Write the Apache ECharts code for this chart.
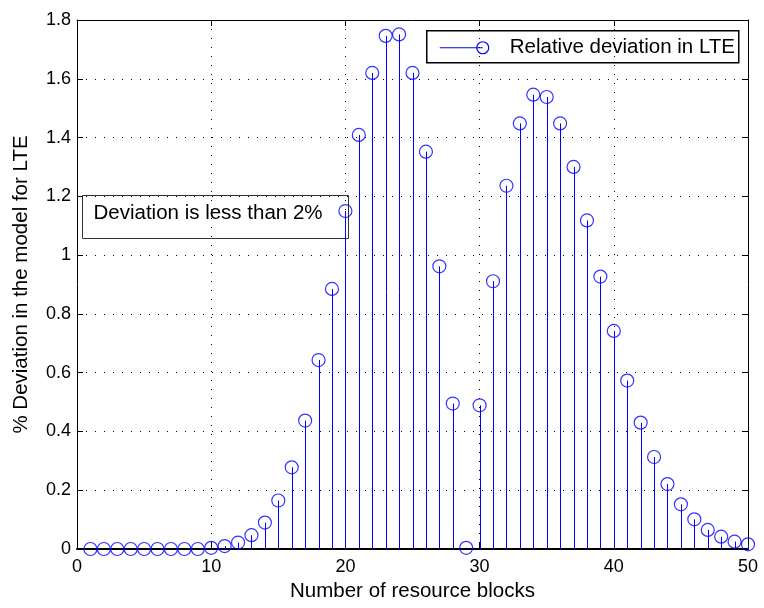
<!DOCTYPE html>
<html>
<head>
<meta charset="utf-8">
<script src="https://cdn.jsdelivr.net/npm/echarts@6/dist/echarts.min.js"></script>
<style>
  html, body { margin: 0; padding: 0; background: #fff; }
  #chart { width: 764px; height: 608px; }
</style>
</head>
<body>
<div id="chart"></div>
<script>
// Number of resource blocks (x) and relative deviation in % (y)
const resourceBlocks = [
  1, 2, 3, 4, 5, 6, 7, 8, 9, 10,
  11, 12, 13, 14, 15, 16, 17, 18, 19, 20,
  21, 22, 23, 24, 25, 26, 27, 28, 29, 30,
  31, 32, 33, 34, 35, 36, 37, 38, 39, 40,
  41, 42, 43, 44, 45, 46, 47, 48, 49, 50
];
const deviation = [
  0.000, 0.000, 0.000, 0.000, 0.000, 0.000, 0.000, 0.000, 0.000, 0.004,
  0.010, 0.022, 0.047, 0.090, 0.165, 0.278, 0.437, 0.643, 0.885, 1.150,
  1.409, 1.620, 1.746, 1.751, 1.620, 1.352, 0.962, 0.495, 0.004, 0.489,
  0.911, 1.236, 1.448, 1.546, 1.538, 1.448, 1.300, 1.118, 0.927, 0.742,
  0.573, 0.430, 0.313, 0.221, 0.152, 0.101, 0.065, 0.042, 0.025, 0.016
];
const seriesName = 'Relative deviation in LTE';
const noteText = 'Deviation is less than 2%';
const xAxisTitle = 'Number of resource blocks';
const yAxisTitle = '% Deviation in the model for LTE';

const points = resourceBlocks.map((x, i) => [x, deviation[i]]);

const FONT = '"Liberation Sans", Arial, Helvetica, sans-serif';
const BLUE = '#0000ff';

// top and right axes only close the frame and carry inward ticks
const frameAxis = {
  axisLine: { show: true, onZero: false, lineStyle: { color: '#000', width: 1 } },
  axisTick: { show: true, inside: true, length: 6, lineStyle: { color: '#000' } },
  axisLabel: { show: false },
  splitLine: { show: false }
};

const chart = echarts.init(document.getElementById('chart'), null, { renderer: 'canvas' });

chart.setOption({
  animation: false,
  backgroundColor: '#fff',
  grid: { left: 77, right: 16, top: 20, bottom: 59, containLabel: false },
  xAxis: [
    {
      type: 'value', min: 0, max: 50, interval: 10,
      name: xAxisTitle, nameLocation: 'middle', nameGap: 30,
      nameTextStyle: { fontFamily: FONT, fontSize: 20.5, color: '#000' },
      axisLine: { show: true, onZero: false, lineStyle: { color: '#000', width: 2 } },
      axisTick: { show: true, inside: true, length: 6, lineStyle: { color: '#000' } },
      axisLabel: { fontFamily: FONT, fontSize: 18, color: '#000', margin: 9 },
      splitLine: { show: true, lineStyle: { color: '#000', width: 1, type: [1, 8] } }
    },
    Object.assign({ type: 'value', min: 0, max: 50, interval: 10, position: 'top' }, frameAxis)
  ],
  yAxis: [
    {
      type: 'value', min: 0, max: 1.8, interval: 0.2,
      name: yAxisTitle, nameLocation: 'middle', nameGap: 45, nameRotate: 90,
      nameTextStyle: { fontFamily: FONT, fontSize: 20.5, color: '#000' },
      axisLine: { show: true, lineStyle: { color: '#000', width: 1 } },
      axisTick: { show: true, inside: true, length: 6, lineStyle: { color: '#000' } },
      axisLabel: {
        fontFamily: FONT, fontSize: 18, color: '#000', margin: 6,
        formatter: v => String(Math.round(v * 10) / 10)
      },
      splitLine: { show: true, lineStyle: { color: '#000', width: 1, type: [1, 8] } }
    },
    Object.assign({ type: 'value', min: 0, max: 1.8, interval: 0.2, position: 'right' }, frameAxis)
  ],
  series: [
    {
      // stems from the baseline up to each value
      type: 'custom',
      name: seriesName,
      data: points,
      clip: false,
      z: 3,
      renderItem: function (params, api) {
        const x = api.value(0);
        const base = api.coord([x, 0]);
        const top = api.coord([x, api.value(1)]);
        const px = Math.round(base[0]) + 0.5;
        return {
          type: 'line',
          shape: { x1: px, y1: base[1], x2: px, y2: top[1] },
          style: { stroke: BLUE, lineWidth: 1 }
        };
      }
    },
    {
      // open circle markers on top of each stem
      type: 'scatter',
      name: seriesName,
      data: points,
      symbol: 'circle',
      symbolSize: 13,
      clip: false,
      z: 4,
      itemStyle: { color: 'rgba(0,0,0,0)', borderColor: BLUE, borderWidth: 1.2 },
      emphasis: { disabled: true }
    }
  ],
  graphic: [
    {
      // legend box
      type: 'group',
      left: 426, top: 30,
      children: [
        { type: 'rect', shape: { x: 0, y: 0, width: 312, height: 32 },
          style: { fill: '#fff', stroke: '#000', lineWidth: 1.5 } },
        { type: 'line', shape: { x1: 13, y1: 17, x2: 56, y2: 17 },
          style: { stroke: BLUE, lineWidth: 1 } },
        { type: 'circle', shape: { cx: 56, cy: 17, r: 6 },
          style: { fill: 'none', stroke: BLUE, lineWidth: 1.2 } },
        { type: 'text', x: 83, y: 17,
          style: { text: seriesName, font: '20.5px ' + FONT, fill: '#000', verticalAlign: 'middle' } }
      ],
      z: 10
    },
    {
      // annotation box
      type: 'group',
      left: 82, top: 195,
      children: [
        { type: 'rect', shape: { x: 0, y: 0, width: 266, height: 43 },
          style: { fill: '#fff', stroke: '#333', lineWidth: 1 } },
        { type: 'text', x: 11, y: 18,
          style: { text: noteText, font: '20.5px ' + FONT, fill: '#000', verticalAlign: 'middle' } }
      ],
      z: 2
    }
  ]
});
</script>
</body>
</html>
